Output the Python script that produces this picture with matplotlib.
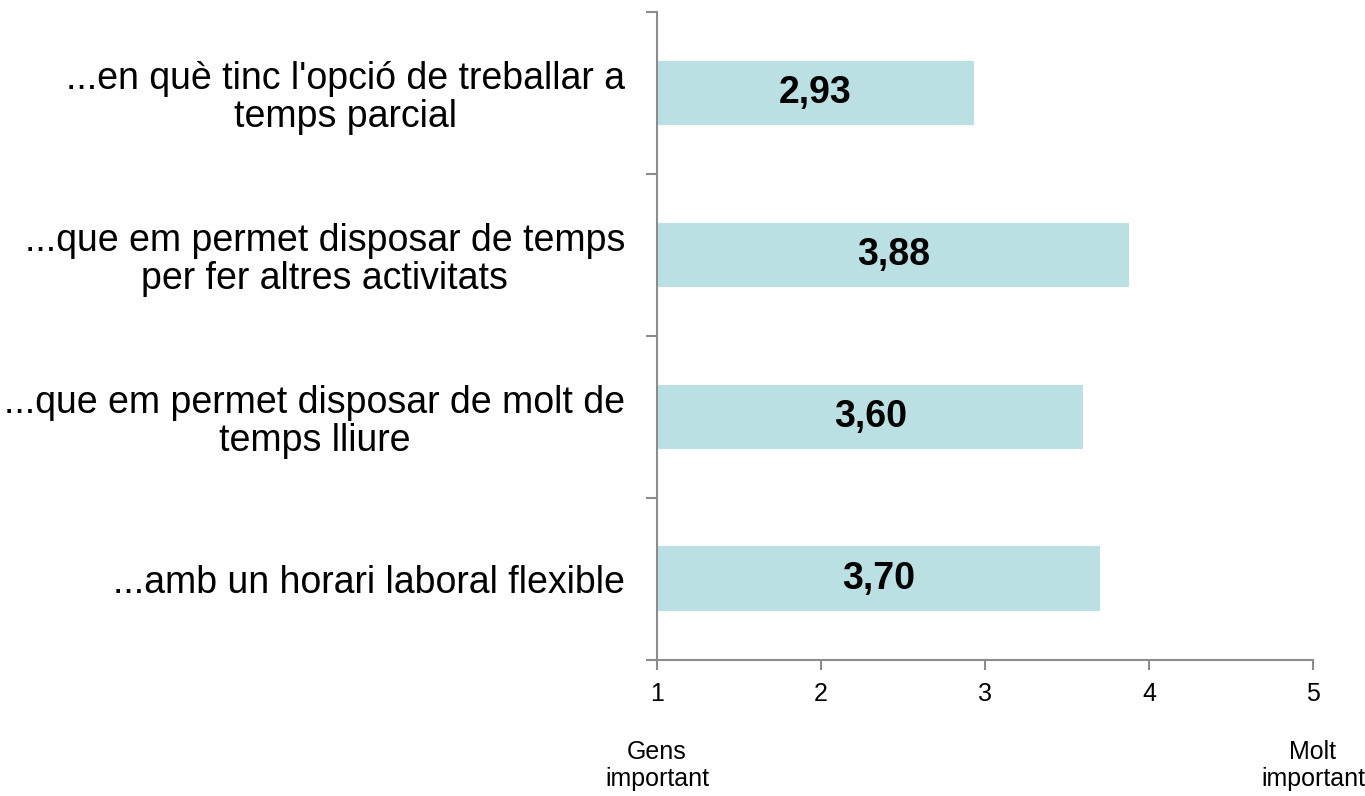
import matplotlib.pyplot as plt
import matplotlib.transforms as mtransforms

plt.rcParams['font.family'] = ['Liberation Sans', 'DejaVu Sans']

categories = [
    "...amb un horari laboral flexible",
    "...que em permet disposar de molt de\ntemps lliure",
    "...que em permet disposar de temps\nper fer altres activitats",
    "...en què tinc l'opció de treballar a\ntemps parcial",
]
values = [3.70, 3.60, 3.88, 2.93]
x_ticks = [1, 2, 3, 4, 5]
end_labels = {1: "Gens\nimportant", 5: "Molt\nimportant"}

BAR_COLOR = '#BBE0E3'
AXIS_COLOR = '#8C8C8C'

fig = plt.figure(figsize=(13.65, 7.96), dpi=100)
ax = fig.add_axes([0.4813, 0.171, 0.4806, 0.814])

pos = list(range(len(categories)))
ax.barh(pos, [v - 1 for v in values], left=1, height=0.4, color=BAR_COLOR)

for p, v in zip(pos, values):
    ax.text(1 + (v - 1) / 2, p, f"{v:.2f}".replace('.', ','), ha='center', va='center',
            fontsize=27, fontweight='bold', color='black')

ax.set_xlim(1, 5)
ax.set_ylim(-0.5, len(categories) - 0.5)

ax.set_xticks(x_ticks)
ax.set_xticklabels([str(t) for t in x_ticks], fontsize=18)
ax.tick_params(axis='x', direction='out', length=7, width=1.5, color=AXIS_COLOR, pad=9)

# category boundaries get ticks, centres get labels
ax.set_yticks([i - 0.5 for i in range(len(categories) + 1)])
ax.set_yticklabels([])
ax.set_yticks(pos, minor=True)
ax.set_yticklabels(categories, minor=True, fontsize=27, ha='right', linespacing=1.07,
                   multialignment='center')
ax.tick_params(axis='y', which='major', direction='out', length=8, width=1.5, color=AXIS_COLOR)
ax.tick_params(axis='y', which='minor', length=0, pad=23)

for side in ['top', 'right']:
    ax.spines[side].set_visible(False)
for side in ['left', 'bottom']:
    ax.spines[side].set_color(AXIS_COLOR)
    ax.spines[side].set_linewidth(1.5)

trans = mtransforms.blended_transform_factory(ax.transData, fig.transFigure)
for x, lab in end_labels.items():
    ax.text(x, 0.038, lab, transform=trans, ha='center', va='center', fontsize=18,
            linespacing=1.15, clip_on=False)

fig.savefig('out.png', dpi=100)
